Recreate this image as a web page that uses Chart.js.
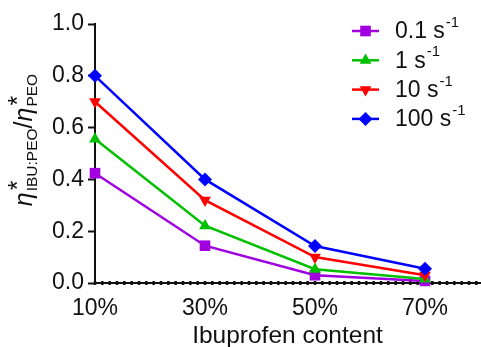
<!DOCTYPE html>
<html>
<head>
<meta charset="utf-8">
<script src="https://cdn.jsdelivr.net/npm/chart.js@4.4.0/dist/chart.umd.min.js"></script>
<style>
  html, body { margin: 0; padding: 0; background: #fff; }
  #wrap { width: 481px; height: 347px; }
</style>
</head>
<body>
<div id="wrap"><canvas id="chart"></canvas></div>
<script>
// ==== Data ====
const contentPct = [10, 30, 50, 70];
const contentLabels = ['10%', '30%', '50%', '70%'];
const rate01 = [0.424, 0.144, 0.030, 0.008];
const rate1 = [0.556, 0.221, 0.053, 0.015];
const rate10 = [0.700, 0.320, 0.100, 0.030];
const rate100 = [0.800, 0.400, 0.143, 0.055];
const rateNames = ['0.1', '1', '10', '100'];
const yTicks = [0, 0.2, 0.4, 0.6, 0.8, 1.0];
const xMinorStep = 20 / 15; // dotted minor ticks on the x axis

const FONT = '"Liberation Sans", Arial, sans-serif';

const styles = [
    { color: '#A000E0', pointStyle: 'rect', radius: 7.5, rotation: 0 },
    { color: '#00C000', pointStyle: 'triangle', radius: 6.8, rotation: 0 },
    { color: '#FF0000', pointStyle: 'triangle', radius: 6.8, rotation: 180 },
    { color: '#0000FF', pointStyle: 'rectRot', radius: 7, rotation: 0 }
];

const seriesValues = [rate01, rate1, rate10, rate100];

const datasets = seriesValues.map((vals, i) => ({
    label: rateNames[i] + ' s-1',
    data: contentPct.map((x, j) => ({ x: x, y: vals[j] })),
    borderColor: styles[i].color,
    backgroundColor: styles[i].color,
    borderWidth: 2.5,
    pointStyle: styles[i].pointStyle,
    pointRadius: styles[i].radius,
    pointRotation: styles[i].rotation,
    pointBorderWidth: 0,
    tension: 0,
    clip: false,
    order: 3 - i
}));

// ==== marker helper for legend ====
function drawMarker(ctx, st, x, y) {
    ctx.save();
    ctx.fillStyle = st.color;
    ctx.beginPath();
    if (st.pointStyle === 'rect') {
        const s = st.radius * Math.SQRT1_2;
        ctx.rect(x - s, y - s, 2 * s, 2 * s);
    } else if (st.pointStyle === 'rectRot') {
        const r = st.radius;
        ctx.moveTo(x, y - r); ctx.lineTo(x + r, y); ctx.lineTo(x, y + r); ctx.lineTo(x - r, y);
    } else {
        const r = st.radius;
        const dir = st.rotation === 180 ? -1 : 1;
        const h = r * 1.5;
        const half = r * Math.sqrt(3) / 2;
        ctx.moveTo(x, y - dir * r);
        ctx.lineTo(x + half, y - dir * (r - h));
        ctx.lineTo(x - half, y - dir * (r - h));
    }
    ctx.closePath();
    ctx.fill();
    ctx.restore();
}

// ==== dotted minor ticks along y = 0 ====
const minorDots = {
    id: 'minorDots',
    beforeDatasetsDraw(chart) {
        const ctx = chart.ctx;
        const xs = chart.scales.x;
        const yPix = chart.scales.y.getPixelForValue(0);
        ctx.save();
        ctx.fillStyle = '#111';
        for (let v = xs.min; v <= xs.max + 1e-6; v += xMinorStep) {
            const px = xs.getPixelForValue(v);
            ctx.fillRect(px - 1.25, yPix - 2, 2.5, 4);
        }
        ctx.restore();
    }
};

// ==== Legend with superscripts ====
const legendPlugin = {
    id: 'rateLegend',
    afterDraw(chart) {
        const ctx = chart.ctx;
        rateNames.forEach((name, i) => {
            const y = 31 + i * 29.3;
            const st = styles[i];
            ctx.save();
            ctx.strokeStyle = st.color;
            ctx.lineWidth = 2.5;
            ctx.beginPath();
            ctx.moveTo(352, y);
            ctx.lineTo(379, y);
            ctx.stroke();
            drawMarker(ctx, st, 365.5, y);
            ctx.fillStyle = '#111';
            ctx.textBaseline = 'middle';
            ctx.font = '23px ' + FONT;
            const main = name + ' s';
            ctx.fillText(main, 395, y + 1);
            const w = ctx.measureText(main).width;
            ctx.font = '15px ' + FONT;
            ctx.fillText('-1', 395 + w + 1, y - 8);
            ctx.restore();
        });
    }
};

// ==== Y axis title: eta*_IBU:PEO / eta*_PEO ====
const yTitlePlugin = {
    id: 'yTitle',
    afterDraw(chart) {
        const ctx = chart.ctx;
        const big = '25px ' + FONT;
        const bigIt = 'italic 25px ' + FONT;
        const small = '15.5px ' + FONT;
        const parts = [
            { t: 'η', font: bigIt },
            { sup: '*', sub: 'IBU:PEO' },
            { t: '/', font: big },
            { t: 'η', font: bigIt },
            { sup: '*', sub: 'PEO' }
        ];
        ctx.save();
        let total = 0;
        parts.forEach(p => {
            if (p.t) { ctx.font = p.font; p.w = ctx.measureText(p.t).width; }
            else {
                ctx.font = big; const a = ctx.measureText(p.sup).width;
                ctx.font = small; const b = ctx.measureText(p.sub).width;
                p.w = Math.max(a, b) + 1;
            }
            total += p.w;
        });
        ctx.translate(32, 140);
        ctx.rotate(-Math.PI / 2);
        ctx.fillStyle = '#111';
        ctx.textBaseline = 'alphabetic';
        let x = -total / 2;
        parts.forEach(p => {
            if (p.t) {
                ctx.font = p.font;
                ctx.fillText(p.t, x, 0);
            } else {
                ctx.font = big;
                ctx.fillText(p.sup, x + 2, -6);
                ctx.font = small;
                ctx.fillText(p.sub, x + 1, 5);
            }
            x += p.w;
        });
        ctx.restore();
    }
};

const ctx = document.getElementById('chart').getContext('2d');
new Chart(ctx, {
    type: 'line',
    data: { datasets: datasets },
    options: {
        responsive: true,
        maintainAspectRatio: false,
        animation: false,
        layout: { autoPadding: false, padding: { top: 24, right: 1, left: 0, bottom: 0 } },
        plugins: {
            legend: { display: false },
            tooltip: { enabled: false }
        },
        scales: {
            x: {
                type: 'linear',
                min: 10,
                max: 80,
                afterBuildTicks: scale => { scale.ticks = contentPct.map(v => ({ value: v })); },
                afterFit: scale => { scale.height = 64; },
                ticks: {
                    autoSkip: false,
                    maxRotation: 0,
                    padding: 9,
                    color: '#111',
                    font: { family: FONT, size: 23 },
                    callback: v => {
                        const k = contentPct.findIndex(c => Math.abs(c - v) < 1e-6);
                        return k >= 0 ? contentLabels[k] : '';
                    }
                },
                grid: {
                    display: false,
                    tickLength: 3
                },
                border: { display: true, color: '#111', width: 2 },
                title: {
                    display: true,
                    text: 'Ibuprofen content',
                    color: '#111',
                    font: { family: FONT, size: 24.5, lineHeight: 1 },
                    padding: { top: 0, bottom: -1 }
                }
            },
            y: {
                min: 0,
                max: 1,
                afterBuildTicks: scale => { scale.ticks = yTicks.map(v => ({ value: v })); },
                afterFit: scale => { scale.width = 95; },
                ticks: {
                    padding: 4,
                    color: '#111',
                    font: { family: FONT, size: 23 },
                    callback: v => v.toFixed(1)
                },
                grid: {
                    drawOnChartArea: false,
                    tickLength: 7,
                    tickWidth: 2,
                    tickColor: '#111'
                },
                border: { color: '#111', width: 2 }
            }
        }
    },
    plugins: [minorDots, legendPlugin, yTitlePlugin]
});
</script>
</body>
</html>
